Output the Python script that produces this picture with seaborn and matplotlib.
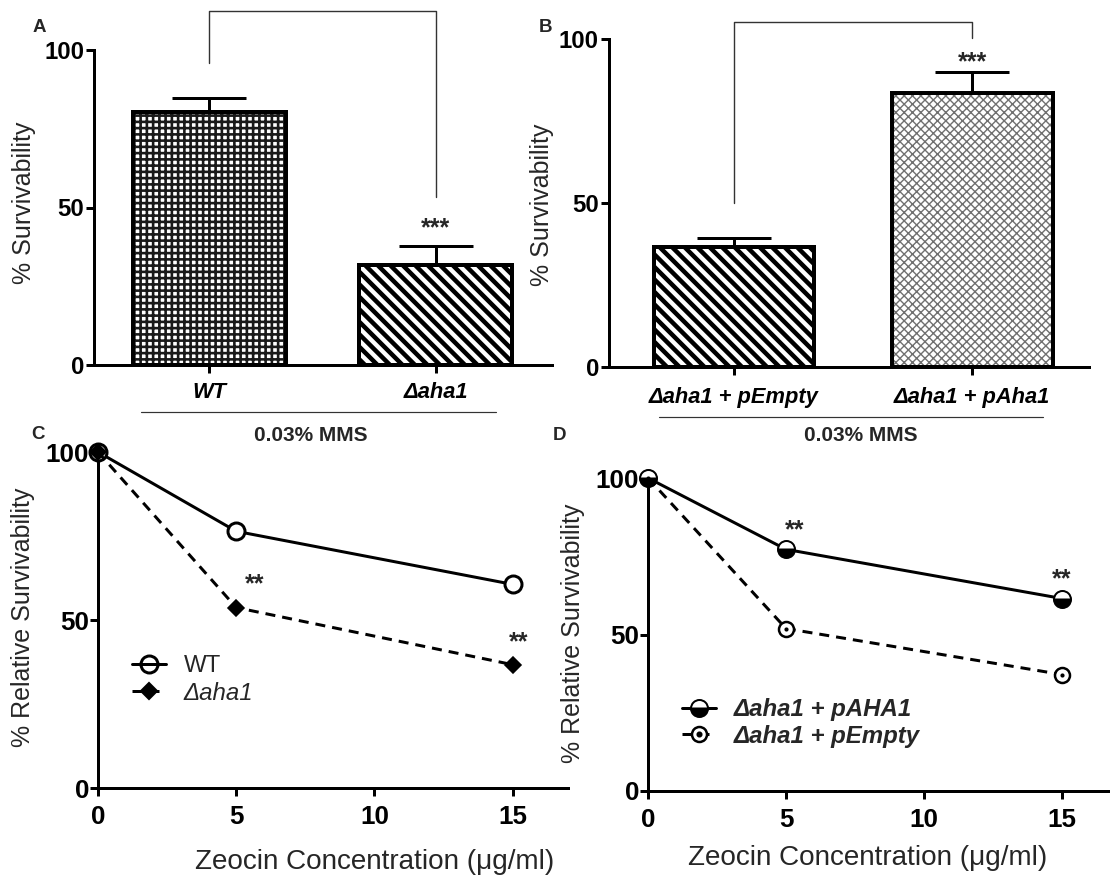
import numpy as np
import matplotlib
matplotlib.use("Agg")
import matplotlib.pyplot as plt
import seaborn as sns
from matplotlib.lines import Line2D
from matplotlib.patches import Rectangle
from matplotlib.legend_handler import HandlerTuple

# ---- data ----
mms_groups_a = ["WT", "Δaha1"]
mms_surv_a = [80.3, 31.7]
mms_sem_a = [4.5, 6.1]

mms_groups_b = ["Δaha1 + pEmpty", "Δaha1 + pAha1"]
mms_surv_b = [36.6, 83.5]
mms_sem_b = [2.8, 6.5]

zeocin = [0, 5, 15]
wt_rel = [100, 76.4, 60.6]
aha1_rel = [100, 53.7, 36.7]
paha1_rel = [100, 77.2, 61.5]
pempty_rel = [100, 51.9, 37.2]

# ---- layout helpers (pixel based) ----
DPI = 150
W, H = 1110, 878


def pt(px):
    return px * 72 / DPI


def box(l, r, t, b):
    return [l / W, 1 - b / H, (r - l) / W, (b - t) / H]


sns.set_theme(style="ticks")
plt.rcParams["font.family"] = ["Liberation Sans", "DejaVu Sans"]
plt.rcParams["lines.scale_dashes"] = False

fig = plt.figure(figsize=(W / DPI, H / DPI), dpi=DPI)
DASH = (0, (pt(10), pt(7)))
STAR = dict(ha="center", va="center", fontsize=12, fontweight="bold")


def style_axes(ax, tick_size, pad):
    sns.despine(ax=ax)
    for s in ("left", "bottom"):
        ax.spines[s].set_linewidth(pt(3))
        ax.spines[s].set_color("black")
    ax.tick_params(direction="out", length=pt(8), width=pt(3), color="black",
                   labelsize=tick_size, labelcolor="black")
    ax.tick_params(axis="y", pad=pt(2))
    ax.tick_params(axis="x", pad=pad)
    ax.set_facecolor("none")


def bar_panel(rect, groups, vals, sems, hatches, hcolors, hwidths, xlim, xpad):
    ax = fig.add_axes(rect)
    sns.barplot(x=groups, y=vals, ax=ax, width=0.675, color="white",
                saturation=1, errorbar=None, linewidth=0)
    bars = list(ax.patches)
    for bar, h, hc, hw in zip(bars, hatches, hcolors, hwidths):
        bar.set_hatch(h)
        bar.set_edgecolor(hc)
        bar.set_linewidth(0)
        if hasattr(bar, "set_hatch_linewidth"):
            bar.set_hatch_linewidth(hw)
        ax.add_patch(Rectangle((bar.get_x(), bar.get_y()), bar.get_width(),
                               bar.get_height(), fill=False, edgecolor="black",
                               linewidth=pt(4), zorder=3))
    ax.errorbar(range(len(vals)), vals, yerr=[np.zeros(len(vals)), sems],
                fmt="none", ecolor="black", elinewidth=pt(3), capsize=pt(37),
                capthick=pt(3), zorder=2)
    ax.set_xlim(*xlim)
    ax.set_ylim(0, 100)
    ax.set_yticks([0, 50, 100])
    style_axes(ax, 11.5, xpad)
    for t in ax.get_yticklabels():
        t.set_fontweight("bold")
    for t in ax.get_xticklabels():
        t.set_fontweight("bold")
        t.set_fontstyle("italic")
        t.set_fontsize(10.5)
    ax.set_xlabel("")
    ax.set_ylabel("")
    return ax


plt.rcParams["hatch.linewidth"] = pt(2.5)

# ---- panel A ----
axA = bar_panel(box(94, 552, 50, 365), mms_groups_a, mms_surv_a, mms_sem_a,
                ["++++", "\\\\\\\\"], ["#1a1a1a", "black"], [pt(2.6), pt(4.5)],
                (-0.508, 1.514), pt(9))
axA.plot([0, 0, 1, 1], [95.9, 112.4, 112.4, 53.3], color="#333333",
         lw=pt(1.4), clip_on=False)
axA.text(1, 43.5, "***", **STAR)

# ---- panel B ----
axB = bar_panel(box(609, 1089, 39, 367), mms_groups_b, mms_surv_b, mms_sem_b,
                ["\\\\\\\\", "xxxxxx"], ["black", "#707070"], [pt(4.5), pt(1.4)],
                (-0.525, 1.49), pt(12))
axB.plot([0, 0, 1, 1], [50, 105.2, 105.2, 100.3], color="#333333",
         lw=pt(1.4), clip_on=False)
axB.text(1, 93, "***", **STAR)

# ---- panel C ----
axC = fig.add_axes(box(98, 568, 452, 788))
sns.lineplot(x=zeocin, y=wt_rel, ax=axC, color="black", lw=pt(3), marker="o",
             markersize=pt(17), markerfacecolor="white", markeredgecolor="black",
             markeredgewidth=pt(3), clip_on=False, zorder=3)
sns.lineplot(x=zeocin, y=aha1_rel, ax=axC, color="black", lw=pt(3),
             linestyle=DASH, marker="D", markersize=pt(12),
             markerfacecolor="black", markeredgecolor="black", clip_on=False,
             zorder=4)
axC.set_xlim(0, 17.0)
axC.set_ylim(0, 100)
axC.set_xticks([0, 5, 10, 15])
axC.set_yticks([0, 50, 100])
style_axes(axC, 12.5, pt(9))
axC.tick_params(axis="y", pad=pt(1))
for t in axC.get_xticklabels() + axC.get_yticklabels():
    t.set_fontweight("bold")
axC.text(5.65, 60.6, "**", **STAR)
axC.text(15.2, 43.3, "**", **STAR)

wt_h = Line2D([], [], color="black", lw=pt(3), marker="o", markersize=pt(17),
              markerfacecolor="none", markeredgewidth=pt(3))
aha_h = Line2D([], [], color="black", lw=pt(3), linestyle=DASH, marker="D",
               markersize=pt(12))
legC = axC.legend([wt_h, aha_h], ["WT", "Δaha1"], loc="upper left",
                  bbox_to_anchor=(132 / W, 1 - 655 / H),
                  bbox_transform=fig.transFigure, frameon=False, fontsize=11.5,
                  handlelength=1.4, handletextpad=0.75, labelspacing=0.2,
                  borderpad=0, borderaxespad=0)
legC.get_texts()[1].set_fontstyle("italic")

# ---- panel D ----
axD = fig.add_axes(box(648, 1110, 478, 791))
sns.lineplot(x=zeocin, y=paha1_rel, ax=axD, color="black", lw=pt(3), marker="o",
             markersize=pt(17), fillstyle="bottom", markerfacecolor="black",
             markerfacecoloralt="white", markeredgecolor="black",
             markeredgewidth=pt(2), clip_on=False, zorder=4)
sns.lineplot(x=zeocin, y=pempty_rel, ax=axD, color="black", lw=pt(3),
             linestyle=DASH, marker="o", markersize=pt(15),
             markerfacecolor="white", markeredgecolor="black",
             markeredgewidth=pt(2.5), clip_on=False, zorder=3)
sns.scatterplot(x=zeocin, y=pempty_rel, ax=axD, color="black", s=4,
                marker="o", linewidth=0, clip_on=False, zorder=5)
axD.set_xlim(0, 16.74)
axD.set_ylim(0, 100)
axD.set_xticks([0, 5, 10, 15])
axD.set_yticks([0, 50, 100])
style_axes(axD, 12.5, pt(9))
axD.tick_params(axis="y", pad=pt(1))
for t in axD.get_xticklabels() + axD.get_yticklabels():
    t.set_fontweight("bold")
axD.text(5.33, 83.3, "**", **STAR)
axD.text(14.97, 67.6, "**", **STAR)

pah_h = Line2D([], [], color="black", lw=pt(3), marker="o", markersize=pt(17),
               fillstyle="bottom", markerfacecolor="black",
               markerfacecoloralt="white", markeredgewidth=pt(2))
pem_h = Line2D([], [], color="black", lw=pt(3), linestyle=DASH, marker="o",
               markersize=pt(15), markerfacecolor="white", markeredgewidth=pt(2.5))
dot_h = Line2D([], [], color="black", lw=0, marker="o", markersize=pt(4))
legD = axD.legend([pah_h, (pem_h, dot_h)], ["Δaha1 + pAHA1", "Δaha1 + pEmpty"],
                  handler_map={tuple: HandlerTuple(ndivide=1, pad=0)},
                  loc="upper left", bbox_to_anchor=(682 / W, 1 - 698 / H),
                  bbox_transform=fig.transFigure, frameon=False, fontsize=11.5,
                  handlelength=1.4, handletextpad=0.75, labelspacing=0.15,
                  borderpad=0, borderaxespad=0)
for t in legD.get_texts():
    t.set_fontstyle("italic")
    t.set_fontweight("bold")

# ---- labels and annotations in figure space ----
ylab = dict(rotation=90, ha="center", va="center", fontsize=12)
fig.text(24 / W, 1 - 203 / H, "% Survivability", **ylab)
fig.text(542 / W, 1 - 205 / H, "% Survivability", **ylab)
fig.text(23 / W, 1 - 617 / H, "% Relative Survivability", **ylab)
fig.text(573 / W, 1 - 633 / H, "% Relative Survivability", **ylab)
fig.text(375 / W, 1 - 862 / H, "Zeocin Concentration (μg/ml)", ha="center",
         va="center", fontsize=13.4)
fig.text(868 / W, 1 - 858 / H, "Zeocin Concentration (μg/ml)", ha="center",
         va="center", fontsize=13.4)

for lbl, x, y in [("A", 39, 27), ("B", 545, 27), ("C", 38, 434), ("D", 559, 435)]:
    fig.text(x / W, 1 - y / H, lbl, ha="center", va="center", fontsize=9,
             fontweight="bold")

for x0, x1, y, xc in [(141, 496, 412, 311), (659, 1043, 417, 861)]:
    fig.add_artist(Line2D([x0 / W, x1 / W], [1 - y / H, 1 - y / H],
                          color="#333333", lw=pt(1.2)))
    fig.text(xc / W, 1 - 436 / H, "0.03% MMS", ha="center", va="center",
             fontsize=10, fontweight="bold")

fig.savefig("out.png", dpi=DPI, facecolor="white")
